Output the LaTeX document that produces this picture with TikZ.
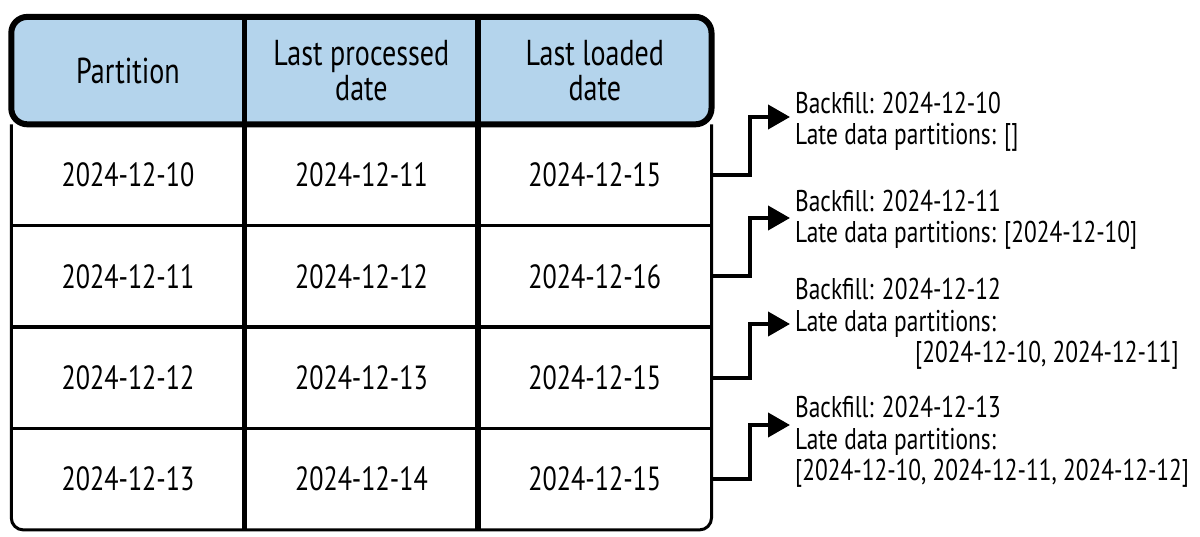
\documentclass[tikz,border=0pt]{standalone}
\usepackage{fontspec}
\setmainfont{PT Sans}[FakeStretch=0.78]
\usetikzlibrary{arrows.meta,positioning,backgrounds}
\definecolor{hdrblue}{RGB}{180,212,236}
\tikzset{%
   cell/.style={minimum width=233pt, minimum height=101pt, inner sep=0pt, align=center, font=\fontsize{33.5}{35}\selectfont},
   hcell/.style={cell, minimum height=107pt, font=\fontsize{36}{35}\selectfont},
   note/.style={anchor=west, align=left, inner xsep=5pt, inner ysep=0pt, font=\fontsize{30}{31.5}\selectfont},
}
\tikzset{
  conn/.style={
    line width=4pt,
    -{Triangle[length=22pt, width=24pt]}
  }
}

\begin{document}
\begin{tikzpicture}[x=1pt, y=-1pt]
   \useasboundingbox (0,0) rectangle (1200,537);
   \node[cell] (p1) at (128,175) {2024-12-10};
   \node[cell, right=0pt of p1] (d1) {2024-12-11};
   \node[cell, right=0pt of d1] (l1) {2024-12-15};
   \node[cell, below=0pt of p1] (p2) {2024-12-11};
   \node[cell, right=0pt of p2] (d2) {2024-12-12};
   \node[cell, right=0pt of d2] (l2) {2024-12-16};
   \node[cell, below=0pt of p2] (p3) {2024-12-12};
   \node[cell, right=0pt of p3] (d3) {2024-12-13};
   \node[cell, right=0pt of d3] (l3) {2024-12-15};
   \node[cell, below=0pt of p3] (p4) {2024-12-13};
   \node[cell, right=0pt of p4] (d4) {2024-12-14};
   \node[cell, right=0pt of d4] (l4) {2024-12-15};
   \node[hcell, above=0pt of p1] (hp) {Partition};
   \node[hcell, above=0pt of d1] (hd) {Last processed\\date};
   \node[hcell, above=0pt of l1] (hl) {Last loaded\\date};
   \begin{scope}[on background layer]
      \draw[line width=3pt, rounded corners=12pt] (hp.south west) -- (p4.south west) -- (l4.south east) -- (hl.south east);
      \draw[line width=6pt, fill=hdrblue, rounded corners=16pt] (hp.north west) rectangle (hl.south east);
      \draw[line width=3.5pt] (p1.south west) -- (l1.south east);
      \draw[line width=3.5pt] (p2.south west) -- (l2.south east);
      \draw[line width=3.5pt] (p3.south west) -- (l3.south east);
      \draw[line width=5.5pt] (hp.north east) -- (p4.south east);
      \draw[line width=5.5pt] (hd.north east) -- (d4.south east);
   \end{scope}
   \node[note] (b1) at (790,122) {Backfill: 2024-12-10\\Late data partitions: []};
   \node[note] (b2) at (790,220) {Backfill: 2024-12-11\\Late data partitions: [2024-12-10]};
   \node[note] (b3) at (790,324) {Backfill: 2024-12-12\\Late data partitions:\\\hspace*{120pt}[2024-12-10, 2024-12-11]};
   \node[note] (b4) at (790,442) {Backfill: 2024-12-13\\Late data partitions:\\{}[2024-12-10, 2024-12-11, 2024-12-12]};
   \draw[conn] (l1.east) -- ++(38,0) |- ([yshift=5pt]b1.west);
   \draw[conn] (l2.east) -- ++(38,0) |- ([yshift=2pt]b2.west);
   \draw[conn] (l3.east) -- ++(38,0) |- (b3.west);
   \draw[conn] (l4.east) -- ++(38,0) |- ([yshift=17pt]b4.west);
\end{tikzpicture}
\end{document}
